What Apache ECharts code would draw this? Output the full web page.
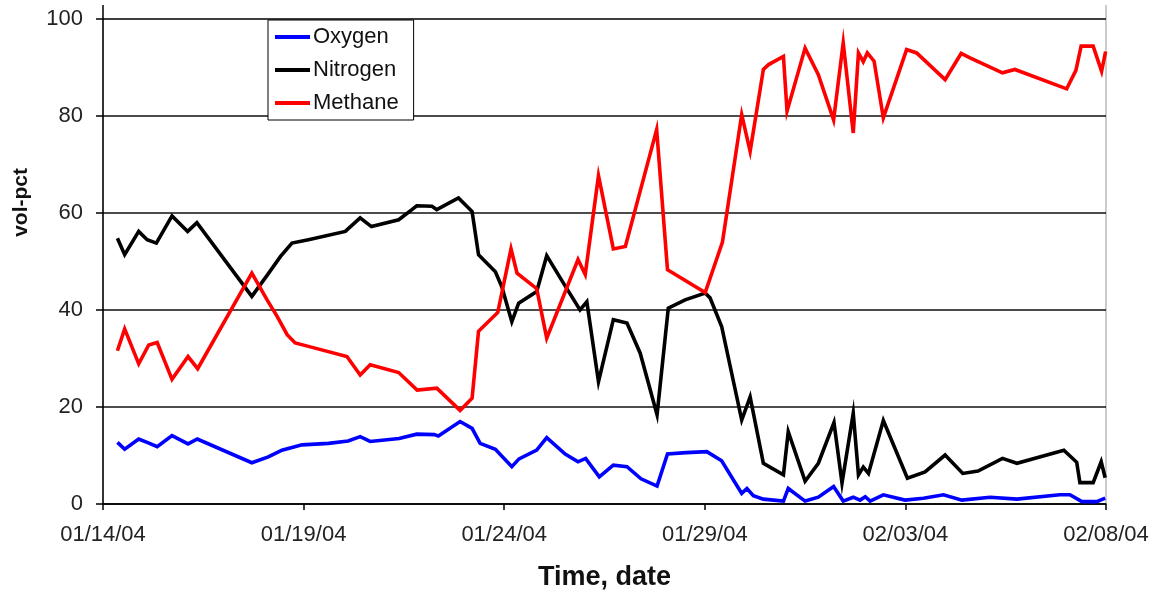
<!DOCTYPE html>
<html>
<head>
<meta charset="utf-8">
<script src="https://cdn.jsdelivr.net/npm/echarts@6/dist/echarts.min.js"></script>
<style>
html,body{margin:0;padding:0;background:#fff;}
#chart{width:1159px;height:601px;}
</style>
</head>
<body>
<div id="chart"></div>
<script>
// x values are days after 01/14/04
var tickLabels = ['01/14/04', '01/19/04', '01/24/04', '01/29/04', '02/03/04', '02/08/04'];
var seriesNames = ['Oxygen', 'Nitrogen', 'Methane'];

var oxygenDays = [0.36,0.54,0.89,1.13,1.35,1.72,2.12,2.35,3.71,4.12,4.46,4.96,5.62,6.11,6.41,6.66,7.38,7.82,8.26,8.36,8.90,9.20,9.40,9.78,10.19,10.37,10.81,11.06,11.52,11.84,12.03,12.37,12.72,13.06,13.41,13.81,14.07,14.54,15.05,15.42,15.92,16.05,16.21,16.46,16.96,17.08,17.50,17.83,18.21,18.45,18.70,18.87,19.00,19.12,19.45,19.99,20.45,20.95,21.41,22.11,22.78,23.85,24.10,24.40,24.77,24.98];
var oxygenVals = [12.7,11.3,13.4,12.6,11.8,14.1,12.4,13.4,8.5,9.7,11.1,12.2,12.5,13.0,13.9,12.9,13.5,14.4,14.3,14.0,17.0,15.6,12.5,11.3,7.7,9.3,11.1,13.7,10.3,8.7,9.4,5.6,8.0,7.7,5.2,3.7,10.3,10.6,10.8,8.9,2.2,3.2,1.7,1.0,0.6,3.2,0.6,1.4,3.6,0.6,1.4,0.8,1.5,0.6,1.9,0.8,1.2,1.9,0.8,1.4,1.0,1.9,1.9,0.5,0.5,1.2];

var nitrogenDays = [0.36,0.54,0.89,1.10,1.33,1.72,2.11,2.34,3.71,4.13,4.42,4.71,5.12,6.04,6.41,6.69,7.37,7.70,7.82,8.20,8.32,8.86,9.20,9.36,9.78,9.94,10.19,10.36,10.81,11.06,11.48,11.89,12.06,12.35,12.72,13.06,13.39,13.81,14.09,14.51,15.01,15.13,15.42,15.92,16.13,16.46,16.96,17.08,17.50,17.83,18.22,18.42,18.70,18.83,18.95,19.08,19.45,20.05,20.49,20.99,21.43,21.81,22.42,22.78,23.95,24.27,24.35,24.68,24.88,24.98];
var nitrogenVals = [54.8,51.4,56.2,54.5,53.8,59.4,56.2,58.0,42.8,47.6,51.0,53.8,54.5,56.2,59.0,57.2,58.6,60.7,61.5,61.4,60.7,63.1,60.3,51.4,47.9,44.8,37.6,41.4,43.8,51.2,45.5,40.0,41.7,25.2,38.0,37.3,31.1,18.4,40.4,42.1,43.5,42.5,36.6,17.3,22.1,8.4,6.0,14.9,4.7,8.4,16.8,4.3,18.7,6.0,7.6,6.3,17.2,5.3,6.6,10.1,6.3,6.8,9.4,8.4,11.1,8.6,4.4,4.4,8.7,5.4];

var methaneDays = [0.36,0.54,0.89,1.14,1.35,1.72,2.12,2.36,3.71,4.09,4.34,4.59,4.79,5.12,6.08,6.41,6.66,7.37,7.83,8.32,8.90,9.20,9.36,9.84,10.17,10.32,10.81,11.06,11.84,12.02,12.35,12.72,13.02,13.80,14.07,15.01,15.44,15.92,16.13,16.46,16.59,16.96,17.05,17.50,17.83,18.21,18.45,18.70,18.83,18.95,19.05,19.22,19.45,20.03,20.28,20.99,21.39,21.61,22.42,22.73,24.02,24.25,24.38,24.68,24.89,24.99];
var methaneVals = [31.6,36.1,28.9,32.8,33.3,25.7,30.4,27.9,47.6,42.1,38.7,34.9,33.2,32.5,30.4,26.6,28.7,27.1,23.5,23.9,19.3,21.8,35.6,39.5,52.6,47.6,44.4,34.2,50.4,47.3,67.7,52.6,53.1,77.2,48.3,43.6,54.0,80.3,72.7,89.6,90.6,92.3,81.0,94.0,88.5,79.2,95.1,76.5,93.0,91.2,93.0,91.3,79.6,93.7,93.0,87.5,92.9,92.0,88.9,89.6,85.6,89.4,94.4,94.4,89.2,93.3];

function pairs(days, vals) {
  return days.map(function (d, i) { return [d, vals[i]]; });
}

var chart = echarts.init(document.getElementById('chart'), null, {renderer: 'canvas'});
var fontFam = '"Liberation Sans", Arial, sans-serif';

function lineSeries(name, color, days, vals) {
  return {
    name: name,
    type: 'line',
    data: pairs(days, vals),
    showSymbol: false,
    symbol: 'none',
    lineStyle: {color: color, width: 3.6, join: 'miter'},
    itemStyle: {color: color},
    animation: false
  };
}

chart.setOption({
  backgroundColor: '#ffffff',
  animation: false,
  grid: {
    left: 103, right: 53, top: 19, bottom: 97,
    show: true, borderColor: '#999999', borderWidth: 1, backgroundColor: 'transparent'
  },
  legend: {
    show: true,
    orient: 'vertical',
    left: 268,
    top: 20,
    data: seriesNames,
    icon: 'rect',
    itemWidth: 35,
    itemHeight: 4,
    itemGap: 11,
    padding: [6, 15, 6, 7],
    backgroundColor: '#ffffff',
    borderColor: '#000000',
    borderWidth: 1,
    textStyle: {fontFamily: fontFam, fontSize: 22, color: '#111', lineHeight: 22, padding: [0, 0, 0, -2]}
  },
  xAxis: {
    type: 'value',
    min: 0, max: 25, interval: 5,
    axisLine: {show: true, onZero: false, lineStyle: {color: '#000', width: 1.5}},
    axisTick: {show: true, length: 6, lineStyle: {color: '#000', width: 1.5}},
    splitLine: {show: false},
    axisLabel: {
      margin: 20,
      fontFamily: fontFam, fontSize: 22, color: '#222',
      formatter: function (v) { return tickLabels[Math.round(v / 5)]; }
    },
    name: 'Time, date',
    nameLocation: 'middle',
    nameGap: 60,
    nameTextStyle: {fontFamily: fontFam, fontSize: 27, fontWeight: 'bold', color: '#111'}
  },
  yAxis: {
    type: 'value',
    min: 0, max: 100, interval: 20,
    axisLine: {show: true, lineStyle: {color: '#000', width: 1.5}},
    axisTick: {show: true, length: 7, lineStyle: {color: '#000', width: 1.5}},
    splitLine: {show: true, lineStyle: {color: '#111', width: 1.5}},
    axisLabel: {margin: 20, fontFamily: fontFam, fontSize: 22, color: '#222'}
  },
  graphic: [{
    type: 'text',
    left: 11,
    top: 168,
    rotation: Math.PI / 2,
    style: {
      text: 'vol-pct',
      fontFamily: fontFam, fontSize: 21, fontWeight: 'bold', fill: '#111'
    }
  }, {
    type: 'line',
    shape: {x1: 103, y1: 5, x2: 103, y2: 19},
    style: {stroke: '#000', lineWidth: 1.5}
  }, {
    type: 'line',
    shape: {x1: 1106, y1: 5, x2: 1106, y2: 19},
    style: {stroke: '#999', lineWidth: 1}
  }],
  series: [
    lineSeries('Oxygen', '#0000ff', oxygenDays, oxygenVals),
    lineSeries('Nitrogen', '#000000', nitrogenDays, nitrogenVals),
    lineSeries('Methane', '#ff0000', methaneDays, methaneVals)
  ]
});
</script>
</body>
</html>
